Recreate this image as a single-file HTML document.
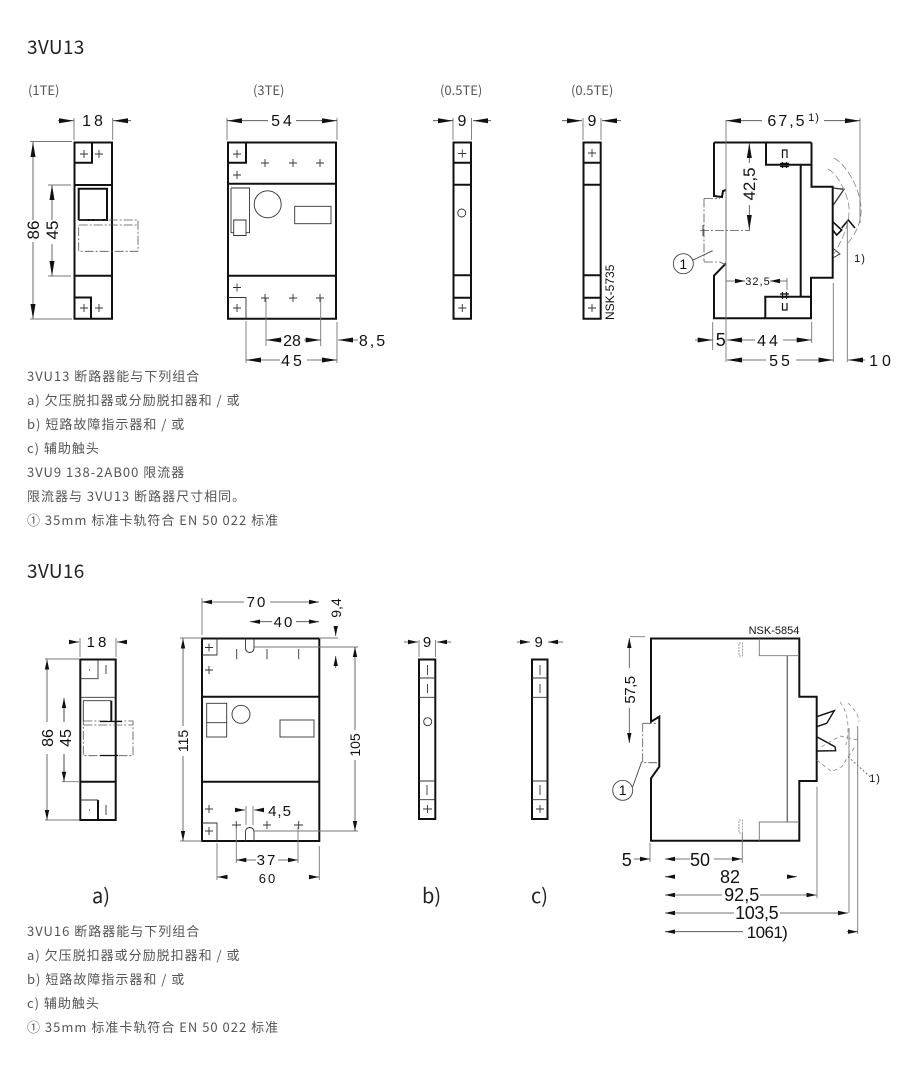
<!DOCTYPE html>
<html><head><meta charset="utf-8"><style>
html,body{margin:0;padding:0;background:#fff}
svg{display:block}
.t{font-family:"Noto Sans CJK SC","Liberation Sans",sans-serif;font-size:13px;letter-spacing:1px;fill:#555}
.l{font-family:"Noto Sans CJK SC","Liberation Sans",sans-serif;font-size:13px;fill:#555}
.h{font-family:"Noto Sans CJK SC","Liberation Sans",sans-serif;font-size:19px;letter-spacing:.3px;fill:#222}
.s{font-family:"Noto Sans CJK SC","Liberation Sans",sans-serif;font-size:20px;fill:#222}
.n{font-family:"Liberation Sans",sans-serif;font-size:16px;fill:#111;text-anchor:middle}
.r{font-family:"Liberation Sans",sans-serif;font-size:17px;fill:#111;text-anchor:middle}
.m{font-family:"Liberation Sans",sans-serif;font-size:15px;fill:#111;text-anchor:middle}
.w{font-family:"Liberation Sans",sans-serif;font-size:18px;fill:#111;text-anchor:middle}
.k{fill:none;stroke:#111;stroke-width:2}
.f{fill:none;stroke:#333;stroke-width:.9}
.g{fill:none;stroke:#777;stroke-width:.9}
.p{fill:none;stroke:#444;stroke-width:.9}
.a{fill:none;stroke:#444;stroke-width:.8;marker-start:url(#A);marker-end:url(#A)}
.e{fill:none;stroke:#444;stroke-width:.8;marker-end:url(#A)}
.b{fill:none;stroke:#444;stroke-width:.8;marker-start:url(#B);marker-end:url(#B)}
.c{fill:none;stroke:#444;stroke-width:.8;marker-end:url(#B)}
.o{fill:none;stroke:#555;stroke-width:.8;stroke-dasharray:9 2 2 2}
.q{fill:none;stroke:#888;stroke-width:.8;stroke-dasharray:7 3}
</style></head><body>
<svg width="900" height="1073" viewBox="0 0 900 1073" xmlns="http://www.w3.org/2000/svg">
<defs>
<marker id="A" markerUnits="userSpaceOnUse" markerWidth="16" markerHeight="7" refX="15" refY="3" orient="auto-start-reverse"><path d="M0,0.5L15,3L0,5.5z" fill="#111"/></marker>
<marker id="B" markerUnits="userSpaceOnUse" markerWidth="11" markerHeight="6" refX="10" refY="2.5" orient="auto-start-reverse"><path d="M0,0.3L10,2.5L0,4.7z" fill="#111"/></marker>
</defs>

<text class="h" x="27" y="54">3VU13</text>
<text class="l" x="28" y="95">(1TE)</text>
<text class="l" x="253" y="95">(3TE)</text>
<text class="l" x="440" y="95">(0.5TE)</text>
<text class="l" x="571" y="95">(0.5TE)</text>

<!-- 3VU13 1TE -->
<path class="k" d="M74.5,142.5H112V318.7H74.5zM74.5,185H112M74.5,275.7H112M74.5,162.7H92V142.5M74.5,297.5H91V318.7M78.7,220V188.7H107V220H78.7"/>
<path class="f" d="M80,154h8M84,150v8M95,154h8M99,150v8M80,308h8M84,304v8M95,308h8M99,304v8"/>
<path class="o" d="M78.7,225H138M78.7,220H138V251.3H78.7V225"/>
<path class="a" d="M33,142V319"/><path class="a" d="M52,185V276"/>
<path class="g" d="M30,141.5H72M30,319H72M48,185H71M48,276H71M74,118V140M112.7,118V140"/>
<path class="e" d="M58,120.7H74"/><path class="e" d="M131,120.7H113"/>
<rect x="24" y="220" width="18" height="22" fill="#fff"/><rect x="43" y="220" width="18" height="24" fill="#fff"/>
<text class="n" x="94" y="126" style="letter-spacing:3px">18</text>
<text class="r" transform="translate(39,230) rotate(-90)">86</text>
<text class="r" transform="translate(58,230) rotate(-90)">45</text>

<!-- 3VU13 3TE -->
<path class="k" d="M228,142.5H336V318.7H228zM228,183.7H336M228,275.7H336M228,162.7H246V142.5"/>
<path class="f" d="M233,154h8M237,150v8M261,163h8M265,159v8M289,163h8M293,159v8M316,163h8M320,159v8M233,175h8M237,171v8M233,287.5h8M237,283.5v8M261,298h8M265,294v8M289,298h8M293,294v8M316,298h8M320,294v8M233,308h8M237,304v8"/>
<path class="f" d="M228,297.5H246V318.7M231,188H249.5V232.7H246M233.7,232.7H231V188M233.7,220H246V235.5H233.7z"/>
<circle class="f" cx="267.7" cy="204.3" r="13.5"/>
<rect class="f" x="294.7" y="206.3" width="36.3" height="17.4"/>
<path class="g" d="M227,118V140M337,118V140M266,298V346M320.7,298V346M337,322V363M246,321V363"/>
<path class="a" d="M227,120.7H337"/><path class="a" d="M266,340H320.7"/><path class="a" d="M246,360H337"/>
<path class="e" d="M358,340H338"/>
<rect x="268" y="112" width="28" height="18" fill="#fff"/><rect x="282" y="332" width="22" height="16" fill="#fff"/><rect x="280" y="352" width="27" height="18" fill="#fff"/>
<text class="n" x="283" y="126" style="letter-spacing:3px">54</text>
<text class="n" x="292" y="346">28</text>
<text class="n" x="293" y="366" style="letter-spacing:3px">45</text>
<text class="n" x="373" y="346" style="letter-spacing:2px">8,5</text>

<!-- 3VU13 0.5TE -->
<path class="k" d="M453.5,142.5H471V318.7H453.5zM453.5,162.7H471M453.5,184.7H471M453.5,275.3H471M453.5,297.7H471"/>
<path class="f" d="M458.3,153.5h8M462.3,149.5v8M458.3,308h8M462.3,304v8"/>
<circle class="f" cx="461.7" cy="213" r="4"/>
<path class="k" d="M583.5,142.5H600.7V318.7H583.5zM583.5,162.7H600.7M583.5,184.7H600.7M583.5,275.3H600.7M583.5,297.7H600.7"/>
<path class="f" d="M588,153h8M592,149v8M588,308h8M592,304v8"/>
<path class="g" d="M453,118V140M471.5,118V140M583,118V140M601,118V140"/>
<path class="e" d="M433,120.7H453"/><path class="e" d="M491,120.7H473"/><path class="e" d="M562,120.7H582"/><path class="e" d="M621,120.7H602"/>
<text class="n" x="462" y="126">9</text><text class="n" x="592" y="126">9</text>
<text class="m" style="font-size:12px;text-anchor:start" transform="translate(614,320) rotate(-90)">NSK-5735</text>

<!-- 3VU13 side -->
<path class="k" d="M811.5,142.5V186.7H832.7V277.7H811V318.3H714V275.7L726,263.3M714,142.5H811.5M714,142.5V196L722,197L723,191L726,190"/>
<path class="k" d="M766,142.5V164.7H811.5M800.7,164.7V296.7M765.3,318.3V296.7H811"/>
<path class="f" d="M726,190V320"/>
<path class="k" style="stroke-width:1.2" d="M782.5,158V150H787V158M782.5,162V168M786.5,162V168M780,163.5H789M780,166.5H789M782.5,303V310H787V303M782.5,292V299M786.5,292V299M780,294H789M780,297H789"/>
<path class="o" d="M704,198.5V261.5M704,198.5H720M704,262H720L726,265M700,230.5H750"/>
<path class="f" d="M703,225V236"/>
<circle class="p" cx="683.3" cy="263.7" r="10" stroke="#111"/>
<path class="p" d="M693,260L712.7,250.7"/>
<!-- switch handles -->
<path class="f" style="stroke-width:1.3" d="M832.7,188L844,189.3L833.3,205"/>
<path class="k" style="stroke-width:1.6" d="M832.7,221.7L841.7,230L836.7,235L832.7,230M841.7,228L848.3,220L855,228"/>
<path class="f" d="M832.7,248L840,254L832.7,258"/>
<path class="q" d="M834,158C848,166 860,190 861,207C862,220 857,232 848,243M828,169C838,174 848,195 849,207C850,222 843,240 833,255"/>
<path class="g" d="M860,118V223M847.3,220V362M726,120V362M712.7,322V350M811.7,322V343M833.3,283V362M787,278V290"/>
<path class="a" d="M726,120.7H860"/>
<path class="a" d="M749.3,143V230"/>
<path class="c" d="M726,281H745"/><path class="c" d="M787,281H770"/>
<path class="e" d="M695,340H712.7"/><path class="a" d="M727,340H811.7"/><path class="a" d="M727,360H833.3"/>
<path class="e" d="M865,360H848"/>
<rect x="762" y="112" width="62" height="18" fill="#fff"/><rect x="743" y="163" width="14" height="42" fill="#fff"/><rect x="755" y="332" width="28" height="16" fill="#fff"/><rect x="766" y="352" width="30" height="16" fill="#fff"/>
<text class="n" x="787" y="126" style="letter-spacing:2px">67,5</text>
<text class="m" x="814" y="121" style="font-size:11px;letter-spacing:1px">1)</text>
<text class="r" transform="translate(755,184) rotate(-90)">42,5</text>
<text class="m" x="758" y="285" style="font-size:11px;letter-spacing:1px">32,5</text>
<text class="w" x="720.7" y="346">5</text>
<text class="n" x="769" y="346" style="letter-spacing:3px">44</text>
<text class="n" x="781" y="366" style="letter-spacing:3px">55</text>
<text class="n" x="882" y="366" style="letter-spacing:4px">10</text>
<text class="m" x="860" y="262" style="font-size:11px;letter-spacing:1px">1)</text>
<text class="m" x="683.3" y="269" style="font-size:14px">1</text>

<!-- text block 1 -->
<text class="t" x="27" y="381">3VU13 断路器能与下列组合</text>
<text class="t" x="27" y="405">a) 欠压脱扣器或分励脱扣器和 / 或</text>
<text class="t" x="27" y="429">b) 短路故障指示器和 / 或</text>
<text class="t" x="27" y="453">c) 辅助触头</text>
<text class="t" x="27" y="477">3VU9 138-2AB00 限流器</text>
<text class="t" x="27" y="501">限流器与 3VU13 断路器尺寸相同。</text>
<text class="t" x="27" y="525">① 35mm 标准卡轨符合 EN 50 022 标准</text>

<text class="h" x="27" y="578">3VU16</text>

<!-- 3VU16 1TE -->
<path class="k" d="M80.3,659.5H115.7V820H80.3zM80.3,781.7H115.7M111.3,700.7V722M98,800V820"/>
<path class="f" d="M80.3,697.3H115.7M80.3,678.7H98V659.5M80.3,800H98M83.3,721V700.7H111.3M106,665V674M106,805V815M89,670h1M89,810h1"/>
<path class="o" d="M83.3,721H133V755.7H83.3zM83.3,725H133"/>
<path class="k" style="stroke-width:1.2" d="M100,721.5H122M100,755.5H118"/>
<path class="g" d="M80,638V657M116,638V657M45,659H79M45,820H79M62,781.7H80M64,698V781"/>
<path class="c" d="M70,642H79"/><path class="c" d="M126,642H117"/>
<path class="b" d="M47,659.5V820"/><path class="b" d="M64,698V781.7"/>
<rect x="38" y="722" width="18" height="32" fill="#fff"/><rect x="56" y="722" width="16" height="32" fill="#fff"/>
<text class="m" x="98" y="647" style="letter-spacing:3px">18</text>
<text class="r" transform="translate(53,738) rotate(-90)" style="font-size:16px">86</text>
<text class="r" transform="translate(71,738) rotate(-90)" style="font-size:16px">45</text>

<!-- 3VU16 3TE -->
<path class="k" d="M202,638.5H319.3V841H202zM202,696.7H319.3M202,781.7H319.3"/>
<path class="f" d="M202,655H217V638.5M202,823H217V841M205,647.5h8M209,643.5v8M205,670h8M209,666v8M236.7,649V659.3M267,649V659.3M298.7,649V659.3M205,809h8M209,805v8M205,831h8M209,827v8M232,825h9M236.3,821V829M263,825h8M267,821V829M294,825h9M298.7,821V829"/>
<path class="f" d="M245.5,638.5V648C245.5,654 254,654 254,648V638.5M245.5,841V832C245.5,826 254,826 254,832V841"/>
<rect class="f" x="206.7" y="703.3" width="20" height="33.7"/><path class="f" d="M206.7,722.7H226.7"/>
<circle class="f" cx="241" cy="714.3" r="9"/>
<rect class="f" x="280" y="720" width="34" height="17"/>
<path class="g" d="M202,598V635M180,638H202M180,841H202M319,638H338M253,647H358M253,831H358M246,806V825M253,806V825M236.3,827V863M298,827V863M217,843V880M319.3,846V880"/>
<path class="b" d="M202,602H319"/><path class="b" d="M250,621.7H319"/>
<path class="b" d="M183,638.5V841"/><path class="b" d="M355,647V831"/>
<path class="c" d="M335.7,626V636"/><path class="c" d="M335.7,668V656"/>
<path class="c" d="M236,810H245"/><path class="c" d="M263,810H254"/>
<path class="b" d="M236.3,860H298"/>
<path class="c" d="M227,877H217.5"/><path class="c" d="M309,877H319"/>
<rect x="244" y="595" width="26" height="14" fill="#fff"/><rect x="272" y="614" width="24" height="14" fill="#fff"/><rect x="176" y="726" width="14" height="30" fill="#fff"/><rect x="348" y="730" width="14" height="30" fill="#fff"/><rect x="256" y="853" width="22" height="14" fill="#fff"/>
<text class="m" x="257" y="607" style="letter-spacing:2px">70</text>
<text class="m" x="284" y="627" style="letter-spacing:2px">40</text>
<text class="m" transform="translate(341,608) rotate(-90)" style="font-size:14px">9,4</text>
<text class="m" transform="translate(188,741) rotate(-90)" style="font-size:14px">115</text>
<text class="m" transform="translate(360,745) rotate(-90)" style="font-size:14px">105</text>
<text class="m" x="280" y="816" style="letter-spacing:1px">4,5</text>
<text class="m" x="267" y="865" style="letter-spacing:2px">37</text>
<text class="m" x="268" y="883" style="font-size:13px;letter-spacing:2px">60</text>

<!-- 3VU16 b, c -->
<path class="k" d="M419,659.5H435.3V819H419z"/>
<path class="f" d="M419,678H435.3M419,697.3H435.3M419,781H435.3M419,799.7H435.3M427.5,665V675M427.5,684V693M427,785V795M423,809h9M427.5,805V813"/>
<circle class="f" cx="427.7" cy="721.7" r="4"/>
<path class="k" d="M532,659.5H547.5V819H532z"/>
<path class="f" d="M532,678H547.5M532,697.3H547.5M532,781H547.5M532,799.7H547.5M540,665V675M540,684V693M540,785V795M536,809h8M540,805V813"/>
<path class="g" d="M419,640V657M435.5,640V657"/>
<path class="c" d="M404,642H418"/><path class="c" d="M451,642H437"/><path class="c" d="M517,642H530"/><path class="c" d="M563,642H548"/>
<text class="m" x="427" y="647">9</text><text class="m" x="538.7" y="647">9</text>

<!-- 3VU16 side -->
<path class="k" d="M651,638.5H799.3V696.7H816.7V781H799.3V840.7H651V778.3L659.3,766.7V716.7L651,721.7z"/>
<path class="g" d="M759.3,638.5V655.7H799M759.3,840.7V822H799"/><path class="g" style="stroke-width:1.5" d="M787.3,655.7V822"/>
<path class="q" style="stroke-dasharray:2 1" d="M739,643H742.5V656H739zM739,820H742.5V833H739z"/>
<path class="o" d="M642.7,723.3V762.7H657M642.7,723.3H657"/>
<circle class="p" cx="622.7" cy="790.3" r="10" stroke="#111"/>
<path class="p" d="M632.7,786.7L641.7,761.7"/>
<path class="k" style="stroke-width:1.4" d="M816.7,716.7L834.3,710.7L826.7,723.3L816.7,726.7M816.7,736.7L835,746.7L835.7,750.7L816.7,751"/>
<path class="q" style="stroke-dasharray:4 3" d="M816.7,760L831.7,771.7L841.7,766.7L855,746.7M821.7,746.7L840,736L858,740M840,702C848,712 850,728 846,745M848,703C855,710 859,716 859,722"/>
<path class="q" style="stroke-dasharray:2 2;stroke:#555" d="M848,756.7L870,776.7"/>
<path class="g" d="M630,636.7H645M742.3,833V863M650,843V862M817,786.7V898M849,728V913M857.7,726V934"/>
<path class="b" d="M629.3,638V743"/>
<path class="c" d="M634,859H650"/>
<path class="b" d="M665,859H742"/>
<path class="c" d="M675,876.7H665"/><path class="c" d="M788,876.7H797"/>
<path class="b" d="M665,895H816.5"/><path class="b" d="M665,913H848"/>
<path class="c" d="M743,931.7H665"/><path class="c" d="M847,931.7H858"/>
<rect x="622" y="668" width="14" height="40" fill="#fff"/><rect x="690" y="852" width="24" height="14" fill="#fff"/><rect x="722" y="887" width="38" height="14" fill="#fff"/><rect x="734" y="905" width="46" height="14" fill="#fff"/>
<text class="m" x="774" y="634" style="font-size:11px">NSK-5854</text>
<text class="m" transform="translate(635,690) rotate(-90)" style="letter-spacing:-.5px">57,5</text>
<text class="w" x="626.7" y="866">5</text>
<text class="w" x="700" y="866">50</text>
<text class="w" x="730" y="883">82</text>
<text class="w" x="741.7" y="901">92,5</text>
<text class="w" x="756.7" y="919" style="letter-spacing:-.4px">103,5</text>
<text class="w" x="767" y="938" style="font-size:17px;letter-spacing:-.6px">1061)</text>
<text class="m" x="875" y="782" style="font-size:11px;letter-spacing:1px">1)</text>
<text class="m" x="622.7" y="795" style="font-size:14px">1</text>

<text class="s" x="92" y="903">a)</text>
<text class="s" x="422" y="903">b)</text>
<text class="s" x="531" y="903">c)</text>

<text class="t" x="27" y="936">3VU16 断路器能与下列组合</text>
<text class="t" x="27" y="960">a) 欠压脱扣器或分励脱扣器和 / 或</text>
<text class="t" x="27" y="984">b) 短路故障指示器和 / 或</text>
<text class="t" x="27" y="1008">c) 辅助触头</text>
<text class="t" x="27" y="1032">① 35mm 标准卡轨符合 EN 50 022 标准</text>
</svg>
</body></html>
